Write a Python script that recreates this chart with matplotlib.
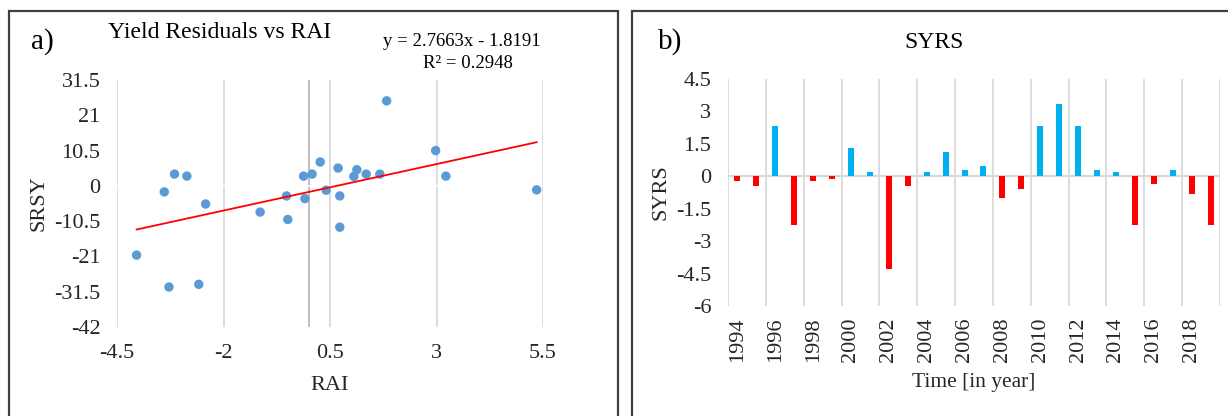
import matplotlib
matplotlib.use("Agg")
import matplotlib.pyplot as plt
import numpy as np
from matplotlib.patches import Rectangle

# ---------------- data ----------------
rai = [-4.04, -3.28, -2.58, -3.39, -3.15, -2.86, -2.42, -1.14, -0.52, -0.49,
       -0.12, 0.08, -0.09, 0.27, 0.41, 0.69, 0.73, 0.73, 1.06, 1.13,
       1.35, 1.67, 1.83, 2.98, 3.22, 5.35]
srsy = [-20.6, -30.1, -29.3, -1.8, 3.5, 2.9, -5.4, -7.8, -3.0, -10.0,
        2.9, 3.5, -3.8, 7.1, -1.3, 5.3, -3.0, -12.3, 2.8, 4.8,
        3.5, 3.5, 25.3, 10.5, 2.9, -1.2]
trend_slope = 2.7663
trend_intercept = -1.8191
eq_text = "y = 2.7663x - 1.8191"
r2_text = "R² = 0.2948"

x_ticks_a = [-4.5, -2, 0.5, 3, 5.5]
x_ticklabels_a = ["-4.5", "-2", "0.5", "3", "5.5"]
y_ticks_a = [31.5, 21, 10.5, 0, -10.5, -21, -31.5, -42]
y_ticklabels_a = ["31.5", "21", "10.5", "0", "-10.5", "-21", "-31.5", "-42"]

years = list(range(1994, 2020))
syrs = [-0.23, -0.43, 2.31, -2.26, -0.23, -0.14, 1.30, 0.22, -4.29, -0.43,
        0.22, 1.13, 0.31, 0.48, -0.99, -0.60, 2.31, 3.33, 2.31, 0.31,
        0.22, -2.26, -0.34, 0.31, -0.81, -2.26]
y_ticks_b = [4.5, 3, 1.5, 0, -1.5, -3, -4.5, -6]
y_ticklabels_b = ["4.5", "3", "1.5", "0", "-1.5", "-3", "-4.5", "-6"]
x_ticklabels_b = [str(y) for y in years[::2]]

# ---------------- style ----------------
plt.rcParams['font.family'] = ['Liberation Serif', 'DejaVu Serif']
TXT = '#262626'
GRID = '#D9D9D9'
W, H = 1228, 416
fig = plt.figure(figsize=(W / 100, H / 100), dpi=100)
fig.patch.set_facecolor('white')


def rect(l, t, r, b):
    return [l / W, 1 - b / H, (r - l) / W, (b - t) / H]


# panel frames
for (l, t, r, b) in [(9, 11, 618, 425), (632, 11, 1240, 425)]:
    fig.patches.append(Rectangle((l / W, 1 - b / H), (r - l) / W, (b - t) / H,
                                 transform=fig.transFigure, fill=False,
                                 edgecolor='#404040', lw=1.6))

# ---------------- panel a ----------------
ax1 = fig.add_axes(rect(117, 80, 543, 327))
ax1.set_xlim(-4.5, 5.5)
ax1.set_ylim(-42, 31.5)
ax1.set_xticks(x_ticks_a)
ax1.set_xticklabels(x_ticklabels_a)
ax1.set_yticks(y_ticks_a)
ax1.set_yticklabels(y_ticklabels_a)
for s in ax1.spines.values():
    s.set_visible(False)
ax1.xaxis.grid(True, color=GRID, lw=1.3)
ax1.set_axisbelow(True)
ax1.axvline(0, color='#BFBFBF', lw=1.4, zorder=1)
ax1.axhline(0, color='white', lw=1.2, zorder=1.5)
ax1.tick_params(length=0, labelsize=16, colors=TXT)
ax1.tick_params(axis='y', pad=12)
ax1.tick_params(axis='x', pad=12)
ax1.scatter(rai, srsy, s=46, color='#5B9BD5', edgecolors='none', zorder=3)
xs = np.array([min(rai), max(rai)])
ax1.plot(xs, trend_slope * xs + trend_intercept, color='#FF0000', lw=1.3, zorder=4)
ax1.set_xlabel("RAI", fontsize=16, color=TXT)
ax1.xaxis.set_label_coords(0.5, -(386 - 327) / (327 - 80))
ax1.set_ylabel("SRSY", fontsize=16, color=TXT)
ax1.yaxis.set_label_coords(-(117 - 39) / (543 - 117), 0.5)

fig.text(220 / W, 1 - 33 / H, "Yield Residuals vs RAI", ha='center', va='center',
         fontsize=17, color='black')
fig.text(42 / W, 1 - 42 / H, "a)", ha='center', va='center', fontsize=21, color='black')
fig.text(462 / W, 1 - 42 / H, eq_text, ha='center', va='center', fontsize=13.5, color='black')
fig.text(468 / W, 1 - 63 / H, r2_text, ha='center', va='center', fontsize=13.5, color='black')

# ---------------- panel b ----------------
ax2 = fig.add_axes(rect(728, 79, 1220, 306))
idx = np.arange(len(years))
colors = ['#00B0F0' if v > 0 else '#FF0000' for v in syrs]
ax2.bar(idx, syrs, width=0.32, color=colors, zorder=3)
ax2.set_xlim(-0.5, len(years) - 0.5)
ax2.set_ylim(-6, 4.5)
ax2.set_yticks(y_ticks_b)
ax2.set_yticklabels(y_ticklabels_b)
ax2.set_xticks(idx[::2])
ax2.set_xticklabels(x_ticklabels_b, rotation=90)
for s in ax2.spines.values():
    s.set_visible(False)
for b in np.arange(-0.5, len(years), 2):
    ax2.axvline(b, color=GRID, lw=1.3, zorder=1)
ax2.axhline(0, color=GRID, lw=1.6, zorder=2)
ax2.tick_params(length=0, labelsize=16, colors=TXT)
ax2.tick_params(axis='y', pad=12)
ax2.tick_params(axis='x', pad=8)
ax2.set_xlabel("Time [in year]", fontsize=15.5, color=TXT)
ax2.xaxis.set_label_coords(0.5, -(383 - 306) / (306 - 79))
ax2.set_ylabel("SYRS", fontsize=16, color=TXT)
ax2.yaxis.set_label_coords(-(728 - 661) / (1220 - 728), 0.5)
ax2.xaxis.label.set_va('center')
ax2.yaxis.label.set_va('center')
ax1.xaxis.label.set_va('center')
ax1.yaxis.label.set_va('center')

fig.text(934 / W, 1 - 42 / H, "SYRS", ha='center', va='center', fontsize=17, color='black')
fig.text(670 / W, 1 - 42 / H, "b)", ha='center', va='center', fontsize=21, color='black')

fig.savefig("out.png", dpi=100, facecolor='white')
